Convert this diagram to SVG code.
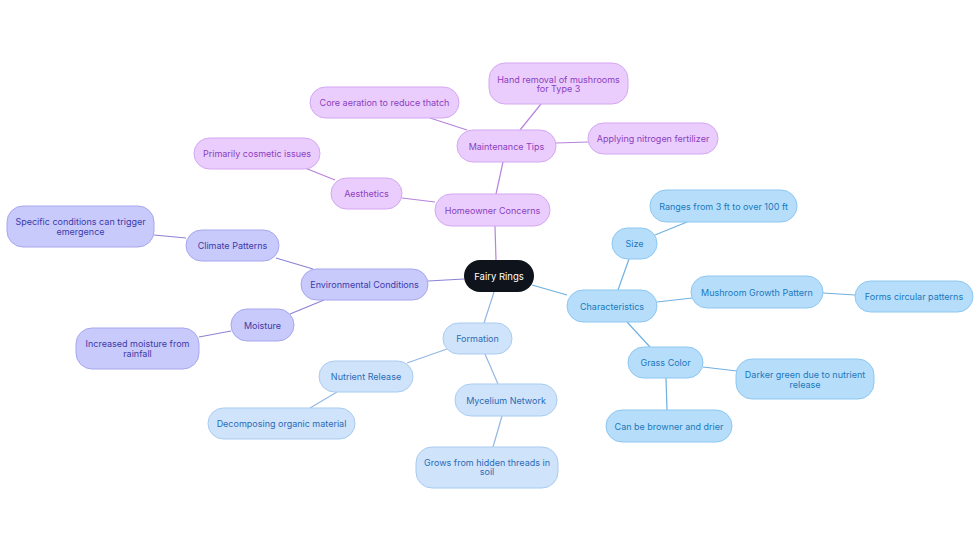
<svg xmlns="http://www.w3.org/2000/svg" width="980" height="553" viewBox="0 0 980 553">
<style>
text{font-family:Inter,"Open Sans","Liberation Sans",sans-serif;font-size:9px;text-anchor:middle;dominant-baseline:central}
.p rect{fill:#EACDFC;stroke:#D3A7F2;stroke-width:1}
.p text{fill:#8A3FC0}
.e rect{fill:#C9CAFC;stroke:#A7A6EE;stroke-width:1}
.e text{fill:#3C3AA8}
.f rect{fill:#CFE4FB;stroke:#A9CBF0;stroke-width:1}
.f text{fill:#2C6BB6}
.c rect{fill:#B6DEFB;stroke:#8DC7F0;stroke-width:1}
.c text{fill:#1B78BB}
.r rect{fill:#0F131C}
.r text{fill:#FFFFFF;font-size:9.5px}
#edges line{stroke-width:1.2;fill:none}
.lp{stroke:#B783DB}
.le{stroke:#8B83D6}
.lf{stroke:#93B7E2}
.lc{stroke:#6FB1E0}
</style>
<rect width="980" height="553" fill="#FFFFFF"/>
<g id="edges">
<line class="lp" x1="496" y1="260" x2="495" y2="226"/>
<line class="lp" x1="496" y1="194" x2="503" y2="162"/>
<line class="lp" x1="520" y1="130" x2="541" y2="104"/>
<line class="lp" x1="467" y1="130" x2="430" y2="118"/>
<line class="lp" x1="556" y1="143" x2="588" y2="142"/>
<line class="lp" x1="435" y1="202" x2="402" y2="198"/>
<line class="lp" x1="335" y1="180" x2="300" y2="166"/>
<line class="le" x1="464" y1="279" x2="428" y2="281"/>
<line class="le" x1="313" y1="269" x2="276" y2="258"/>
<line class="le" x1="186" y1="238" x2="154" y2="235"/>
<line class="le" x1="324" y1="300" x2="290" y2="314"/>
<line class="le" x1="231" y1="331" x2="199" y2="337"/>
<line class="lf" x1="494" y1="292" x2="484" y2="323"/>
<line class="lf" x1="447" y1="349" x2="407" y2="363"/>
<line class="lf" x1="337" y1="392" x2="310" y2="408"/>
<line class="lf" x1="485" y1="354" x2="498" y2="384"/>
<line class="lf" x1="502" y1="416" x2="493" y2="447"/>
<line class="lc" x1="532" y1="285" x2="567" y2="295"/>
<line class="lc" x1="618" y1="290" x2="629" y2="259"/>
<line class="lc" x1="655" y1="235" x2="687" y2="222"/>
<line class="lc" x1="657" y1="302" x2="692" y2="298"/>
<line class="lc" x1="823" y1="293" x2="855" y2="295"/>
<line class="lc" x1="627" y1="322" x2="650" y2="347"/>
<line class="lc" x1="703" y1="367" x2="737" y2="371"/>
<line class="lc" x1="666" y1="378" x2="667" y2="410"/>
</g>
<g id="root" class="r"><rect x="464" y="260" width="70" height="32" rx="16"/><text x="499" y="276">Fairy Rings</text></g>

<g id="homeowner" class="p"><rect x="435" y="194" width="115" height="32" rx="16"/><text x="492.5" y="210">Homeowner Concerns</text></g>
<g id="maintenance" class="p"><rect x="457" y="130" width="99" height="32" rx="16"/><text x="506.5" y="146">Maintenance Tips</text></g>
<g id="hand" class="p"><rect x="489" y="63" width="139" height="41" rx="16"/><text x="558.5" y="79">Hand removal of mushrooms</text><text x="558.5" y="88.5">for Type 3</text></g>
<g id="core" class="p"><rect x="310" y="87" width="149" height="31" rx="15.5"/><text x="384.5" y="102.5">Core aeration to reduce thatch</text></g>
<g id="nitrogen" class="p"><rect x="588" y="123" width="130" height="31" rx="15.5"/><text x="653" y="138.5">Applying nitrogen fertilizer</text></g>
<g id="aesthetics" class="p"><rect x="331" y="178" width="71" height="31" rx="15.5"/><text x="366.5" y="193.5">Aesthetics</text></g>
<g id="cosmetic" class="p"><rect x="194" y="138" width="126" height="31" rx="15.5"/><text x="257" y="153.5">Primarily cosmetic issues</text></g>

<g id="environmental" class="e"><rect x="301" y="269" width="127" height="31" rx="15.5"/><text x="364.5" y="284.5">Environmental Conditions</text></g>
<g id="climate" class="e"><rect x="186" y="230" width="93" height="31" rx="15.5"/><text x="232.5" y="245.5">Climate Patterns</text></g>
<g id="specific" class="e"><rect x="7" y="206" width="147" height="41" rx="16"/><text x="80.5" y="221.5">Specific conditions can trigger</text><text x="80.5" y="231">emergence</text></g>
<g id="moisture" class="e"><rect x="231" y="309" width="63" height="32" rx="16"/><text x="262.5" y="325">Moisture</text></g>
<g id="increased" class="e"><rect x="76" y="328" width="123" height="41" rx="16"/><text x="137.5" y="343.5">Increased moisture from</text><text x="137.5" y="353">rainfall</text></g>

<g id="formation" class="f"><rect x="443" y="323" width="69" height="31" rx="15.5"/><text x="477.5" y="338.5">Formation</text></g>
<g id="nutrient" class="f"><rect x="319" y="361" width="94" height="31" rx="15.5"/><text x="366" y="376.5">Nutrient Release</text></g>
<g id="decomposing" class="f"><rect x="208" y="408" width="147" height="31" rx="15.5"/><text x="281.5" y="423.5">Decomposing organic material</text></g>
<g id="mycelium" class="f"><rect x="455" y="384" width="102" height="32" rx="16"/><text x="506" y="400">Mycelium Network</text></g>
<g id="grows" class="f"><rect x="416" y="447" width="142" height="41" rx="16"/><text x="487" y="462">Grows from hidden threads in</text><text x="487" y="471.5">soil</text></g>

<g id="characteristics" class="c"><rect x="567" y="290" width="90" height="32" rx="16"/><text x="612" y="306">Characteristics</text></g>
<g id="size" class="c"><rect x="612" y="228" width="45" height="31" rx="15.5"/><text x="634.5" y="243.5">Size</text></g>
<g id="ranges" class="c"><rect x="650" y="190" width="147" height="32" rx="16"/><text x="723.5" y="206">Ranges from 3 ft to over 100 ft</text></g>
<g id="mushroom" class="c"><rect x="691" y="276" width="132" height="32" rx="16"/><text x="757" y="292">Mushroom Growth Pattern</text></g>
<g id="circular" class="c"><rect x="855" y="281" width="118" height="31" rx="15.5"/><text x="914" y="296.5">Forms circular patterns</text></g>
<g id="grass" class="c"><rect x="628" y="347" width="75" height="31" rx="15.5"/><text x="665.5" y="362.5">Grass Color</text></g>
<g id="darker" class="c"><rect x="736" y="359" width="138" height="40" rx="16"/><text x="805" y="374.5">Darker green due to nutrient</text><text x="805" y="384">release</text></g>
<g id="browner" class="c"><rect x="606" y="410" width="126" height="32" rx="16"/><text x="669" y="426">Can be browner and drier</text></g>
</svg>
